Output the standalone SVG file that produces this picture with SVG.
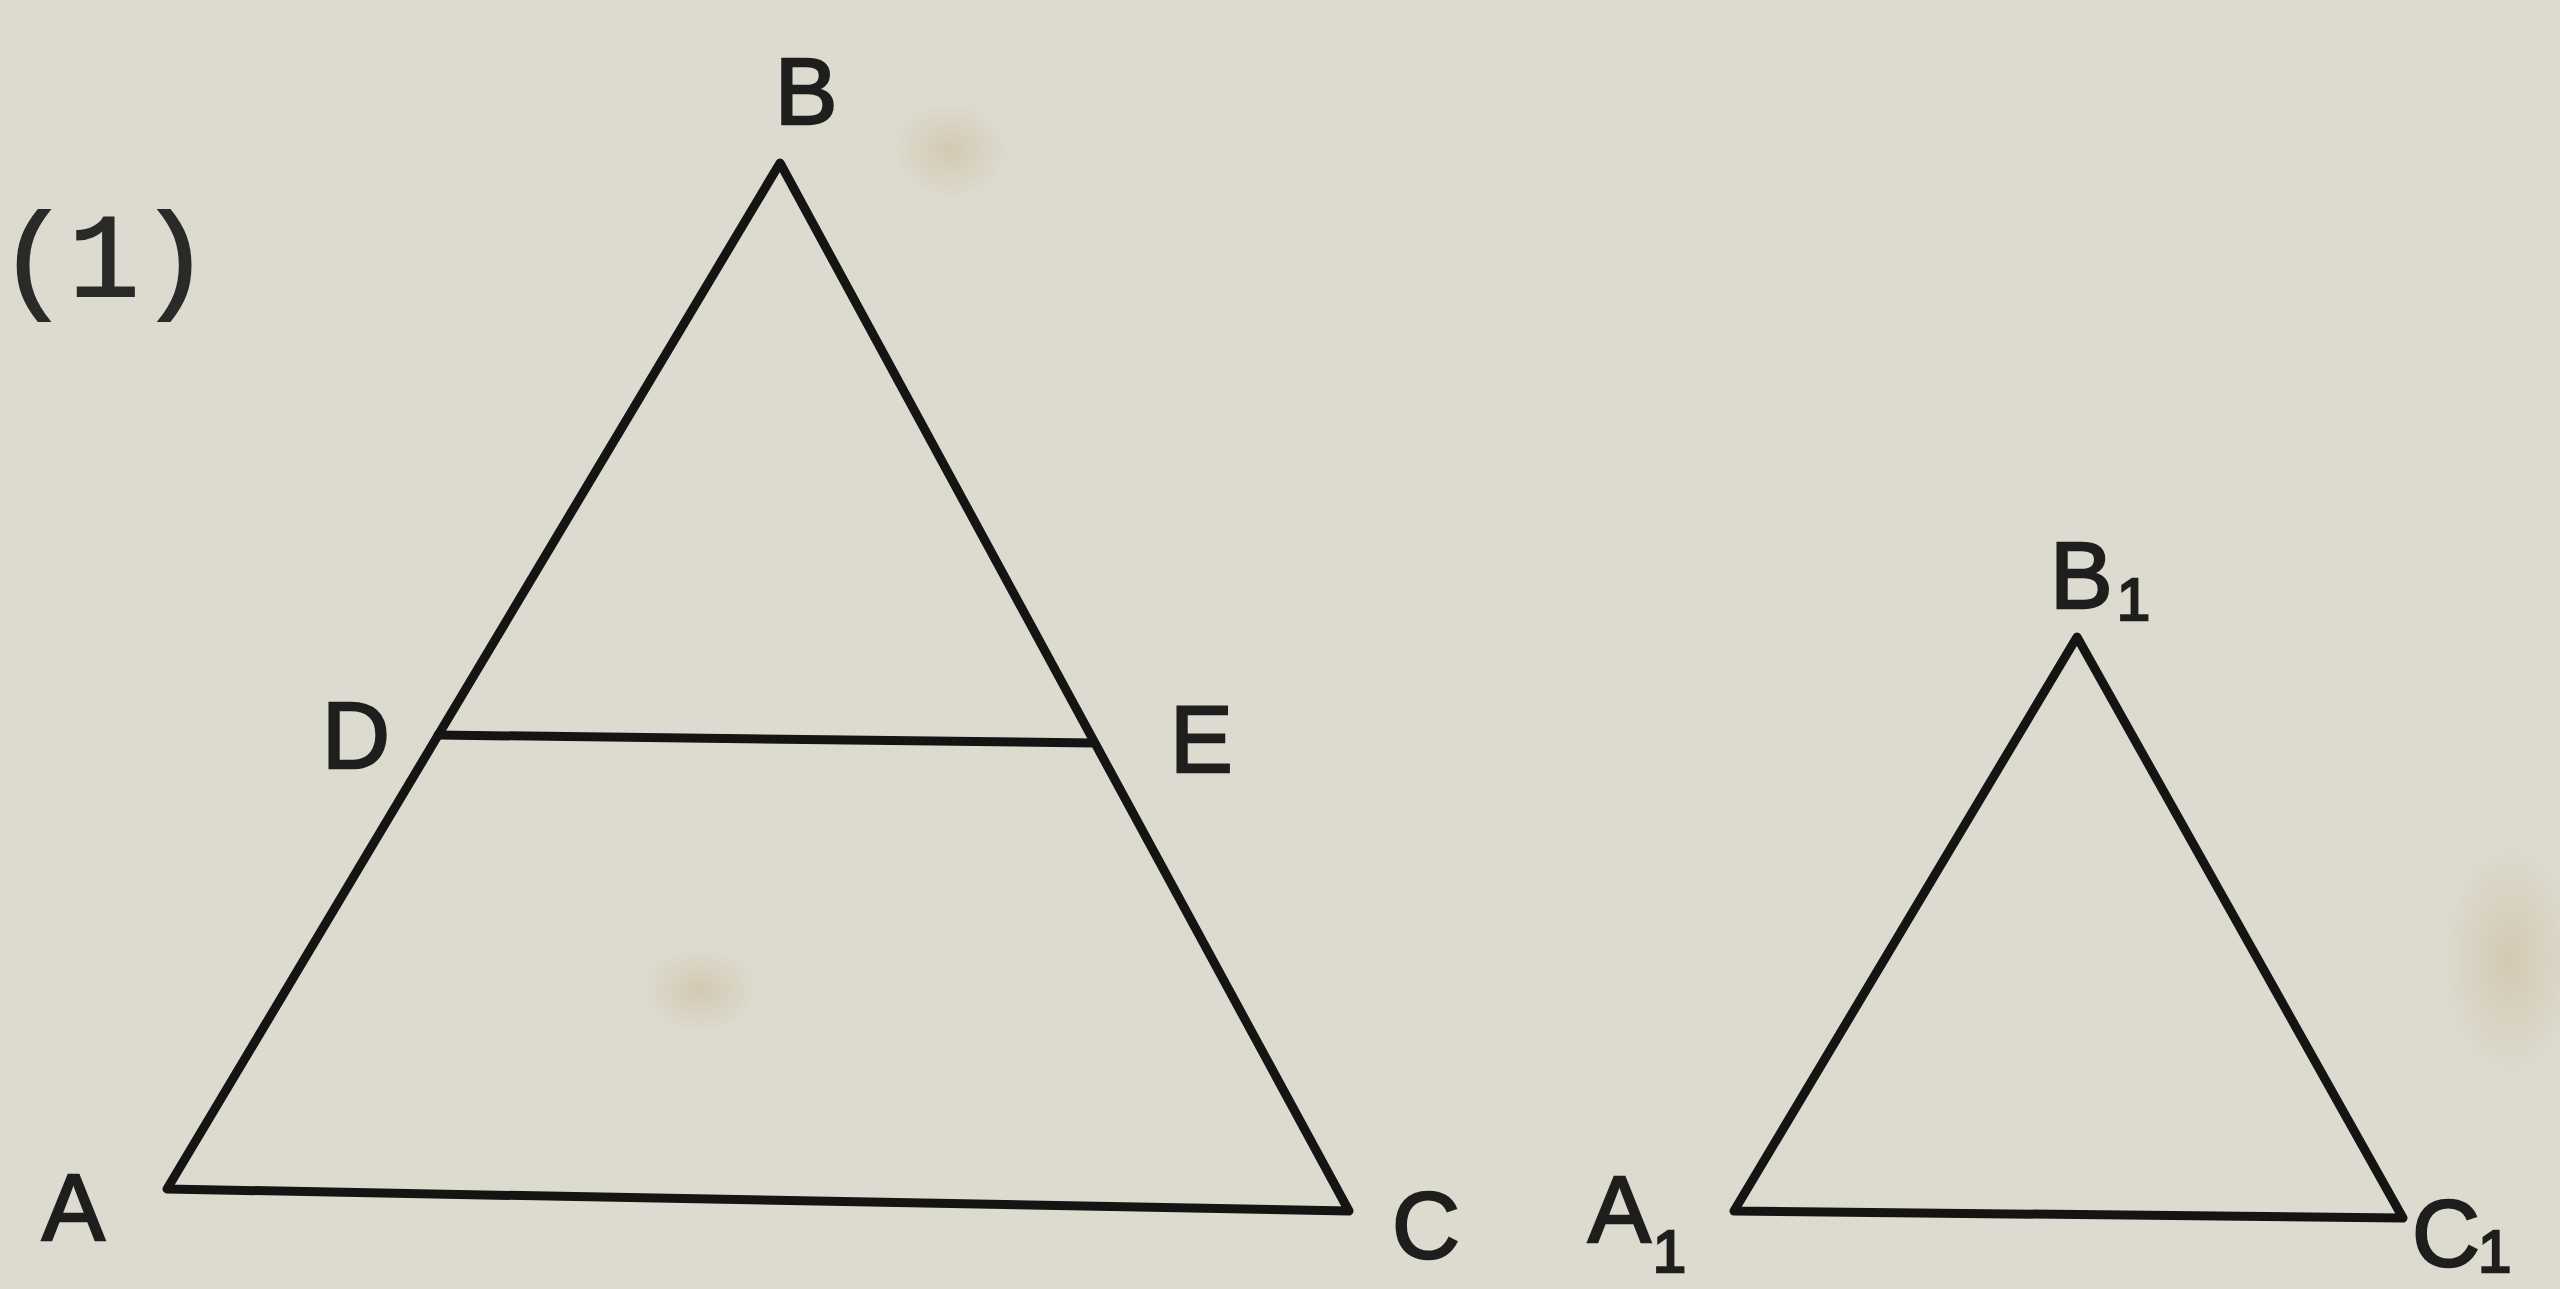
<svg xmlns="http://www.w3.org/2000/svg" width="2560" height="1289" viewBox="0 0 2560 1289">
<defs>
<style>
.ln{stroke:#141412;stroke-width:9;stroke-linecap:round;stroke-linejoin:round;fill:none}
.lb{font-family:"Liberation Sans","DejaVu Sans",sans-serif;font-size:94px;fill:#1e1e1c;stroke:#1e1e1c;stroke-width:2.5}
.sub{font-size:60px}
.num{font-family:"Liberation Mono","DejaVu Sans Mono",monospace;font-size:118px;fill:#2a2a28;stroke:#2a2a28;stroke-width:2}
</style>
<radialGradient id="st1" cx="0.5" cy="0.5" r="0.5"><stop offset="0" stop-color="#c9b894" stop-opacity="0.5"/><stop offset="1" stop-color="#c9b894" stop-opacity="0"/></radialGradient>
</defs>
<rect width="2560" height="1289" fill="#dddbd0"/>
<ellipse cx="700" cy="990" rx="60" ry="45" fill="url(#st1)"/>
<ellipse cx="2510" cy="960" rx="70" ry="120" fill="url(#st1)"/>
<ellipse cx="950" cy="150" rx="60" ry="50" fill="url(#st1)"/>
<g id="connectors">
<polyline class="ln" points="167,1189 780,163 1349,1211 167,1189"/>
<line class="ln" x1="438" y1="735" x2="1094" y2="743"/>
<polyline class="ln" points="1734,1211 2077,637 2403,1218 1734,1211"/>
</g>
<g id="label-1"><text class="num" x="-2" y="296">(1)</text></g>
<g id="node-B"><text class="lb" x="806" y="124" text-anchor="middle">B</text></g>
<g id="node-D"><text class="lb" x="322" y="768">D</text></g>
<g id="node-E"><text class="lb" x="1170" y="772">E</text></g>
<g id="node-A"><text class="lb" x="42" y="1240">A</text></g>
<g id="node-C"><text class="lb" x="1392" y="1258">C</text></g>
<g id="node-A1"><text class="lb" x="1588" y="1242">A<tspan class="sub" dx="2" dy="30">1</tspan></text></g>
<g id="node-B1"><text class="lb" x="2050" y="608">B<tspan class="sub" dx="4" dy="12">1</tspan></text></g>
<g id="node-C1"><text class="lb" x="2412" y="1266">C<tspan class="sub" dx="-2" dy="6">1</tspan></text></g>
</svg>
